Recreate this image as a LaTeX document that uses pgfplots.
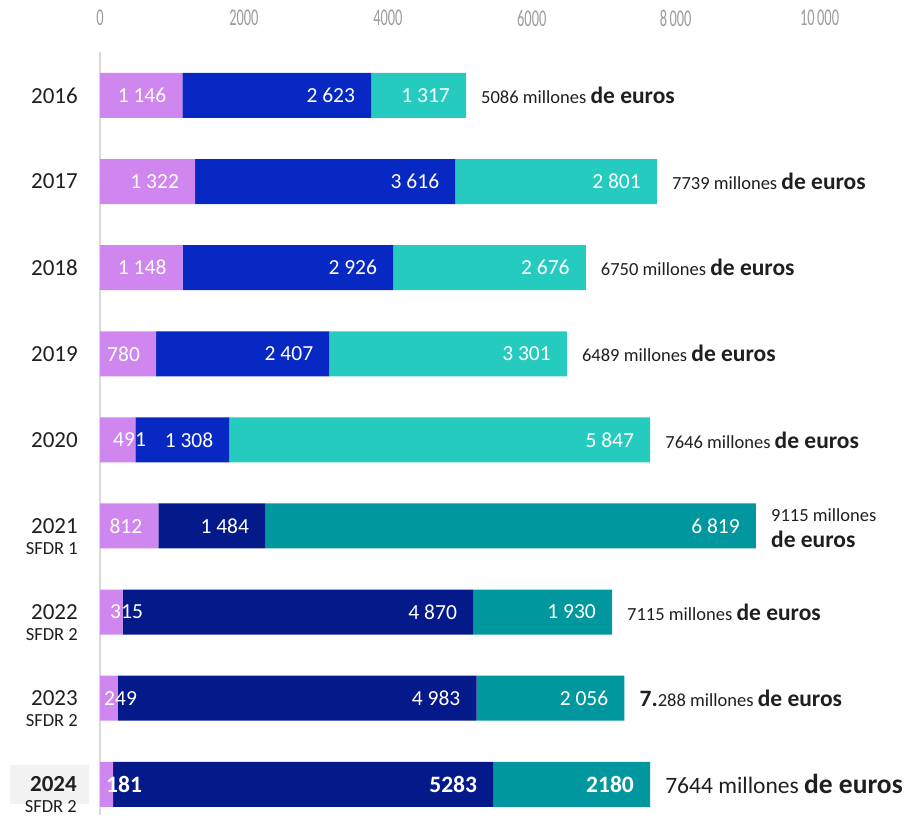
\documentclass[border=0pt]{standalone}
\usepackage{pgfplots}
\pgfplotsset{compat=1.18}
\usepackage{pgfplotstable}
\usepackage{graphicx}
\usepackage{fontspec}
\setmainfont{Carlito}

\definecolor{lilac}{HTML}{CF86EE}
\definecolor{royal}{HTML}{0828C4}
\definecolor{turq}{HTML}{26CBC0}
\definecolor{navy}{HTML}{051A8A}
\definecolor{deepteal}{HTML}{00989E}
\definecolor{ink}{HTML}{1F1F1F}
\definecolor{tickgray}{HTML}{9C9C9C}
\definecolor{axgray}{HTML}{D9D9D9}
\definecolor{boxgray}{HTML}{F2F2F2}

% condensed top tick labels
\newcommand\tk[1]{\scalebox{0.6}[1]{#1}}
% year with a sub-label hanging below, both right aligned
\newcommand\yr[2]{#1\smash{\makebox[0pt][r]{\raisebox{-21pt}{\fontsize{18.5}{20}\selectfont #2}}}}
\newcommand\fs[1]{\fontsize{#1}{#1}\selectfont}

\tikzset{
  val/.style={inner sep=0pt, font=\fs{21.5}, text=white, anchor=east, xshift=-16pt},
  % label set from the bar's start, for segments too narrow to hold it
  valL/.style={inner sep=0pt, font=\fs{21.5}, text=white, anchor=west, xshift=#1},
  tot/.style={inner sep=0pt, font=\fs{18.5}, text=ink, anchor=west, xshift=15pt, align=left},
}
% shared geometry of the bar axis and the label overlay
\pgfplotsset{
  frame/.style={
    at={(100pt,0pt)}, anchor=south west,
    scale only axis, width=818pt, height=763pt,
    xmin=0, xmax=11367,
    ymin=-0.505, ymax=8.357, y dir=reverse,
    scaled x ticks=false, scaled y ticks=false,
    clip=false,
  },
}

% assets by year (millones de euros)
\pgfplotstableread{
row lil blu nav tur tea
0 1146 2623 0 1317 0
1 1322 3616 0 2801 0
2 1148 2926 0 2676 0
3 780 2407 0 3301 0
4 491 1308 0 5847 0
5 812 0 1484 0 6819
6 315 0 4870 0 1930
7 249 0 4983 0 2056
8 181 0 5283 0 2180
}\datatable

\begin{document}
\begin{tikzpicture}
\useasboundingbox (0,0) rectangle (918pt,815pt);
\begin{axis}[
  frame,
  xbar stacked, bar width=45pt,
  axis x line*=top, axis y line*=left,
  x axis line style={draw=none},
  y axis line style={draw=axgray, line width=2pt},
  major tick length=0,
  xtick={0,2000,4000,6000,8000,10000},
  xticklabels={\tk{0},\tk{2000},\tk{4000},\tk{6000},\tk{8\,000},\tk{10\,000}},
  xticklabel style={font=\fs{24}, text=tickgray, anchor=center, inner sep=0pt, yshift=34pt},
  ytick={0,...,8},
  yticklabels={2016,2017,2018,2019,2020,\yr{2021}{SFDR 1},\yr{2022}{SFDR 2},\yr{2023}{SFDR 2},
    {\setlength\fboxsep{12pt}\colorbox{boxgray}{\makebox[55pt][r]{\textbf{2024}}}\smash{\makebox[0pt][r]{\raisebox{-21pt}{\fs{18.5}SFDR 2}\hspace{12pt}}}\hspace*{-11pt}}},
  yticklabel style={font=\fs{23}, text=ink, anchor=east, inner sep=0pt, xshift=-22pt},
]
\addplot[fill=lilac, draw=none] table[x=lil, y=row] {\datatable};
\addplot[fill=royal, draw=none] table[x=blu, y=row] {\datatable};
\addplot[fill=navy, draw=none] table[x=nav, y=row] {\datatable};
\addplot[fill=turq, draw=none] table[x=tur, y=row] {\datatable};
\addplot[fill=deepteal, draw=none] table[x=tea, y=row] {\datatable};
\end{axis}

% value and total labels, on top of the bars
\begin{axis}[frame, hide axis]
\node[val] at (axis cs:1146,0) {1 146};
\node[val] at (axis cs:3769,0) {2 623};
\node[val] at (axis cs:5086,0) {1 317};
\node[val] at (axis cs:1322,1) {1 322};
\node[val] at (axis cs:4938,1) {3 616};
\node[val] at (axis cs:7739,1) {2 801};
\node[val] at (axis cs:1148,2) {1 148};
\node[val] at (axis cs:4074,2) {2 926};
\node[val] at (axis cs:6750,2) {2 676};
\node[val] at (axis cs:780,3) {780};
\node[val] at (axis cs:3187,3) {2 407};
\node[val] at (axis cs:6488,3) {3 301};
\node[valL=13pt] at (axis cs:0,4) {491};
\node[val] at (axis cs:1799,4) {1 308};
\node[val] at (axis cs:7646,4) {5 847};
\node[val] at (axis cs:812,5) {812};
\node[val] at (axis cs:2296,5) {1 484};
\node[val] at (axis cs:9115,5) {6 819};
\node[valL=10pt] at (axis cs:0,6) {315};
\node[val] at (axis cs:5185,6) {4 870};
\node[val] at (axis cs:7115,6) {1 930};
\node[valL=4pt] at (axis cs:0,7) {249};
\node[val] at (axis cs:5232,7) {4 983};
\node[val] at (axis cs:7288,7) {2 056};
\node[valL=6pt, font=\fs{23.5}\bfseries] at (axis cs:0,8) {181};
\node[val, font=\fs{23.5}\bfseries] at (axis cs:5464,8) {5283};
\node[val, font=\fs{23.5}\bfseries] at (axis cs:7644,8) {2180};

\node[tot] at (axis cs:5086,0) {5086 millones {\fs{23.5}\bfseries de euros}};
\node[tot] at (axis cs:7739,1) {7739 millones {\fs{23.5}\bfseries de euros}};
\node[tot] at (axis cs:6750,2) {6750 millones {\fs{23.5}\bfseries de euros}};
\node[tot] at (axis cs:6488,3) {6489 millones {\fs{23.5}\bfseries de euros}};
\node[tot] at (axis cs:7646,4) {7646 millones {\fs{23.5}\bfseries de euros}};
\node[tot, yshift=-2pt] at (axis cs:9115,5) {9115 millones\\[7pt]{\fs{23.5}\bfseries de euros}};
\node[tot] at (axis cs:7115,6) {7115 millones {\fs{23.5}\bfseries de euros}};
\node[tot] at (axis cs:7288,7) {{\fs{23.5}\bfseries 7.}288 millones {\fs{23.5}\bfseries de euros}};
\node[tot, font=\fs{23.5}] at (axis cs:7644,8) {7644 millones {\fs{27.5}\bfseries de euros}};
\end{axis}
\end{tikzpicture}
\end{document}
